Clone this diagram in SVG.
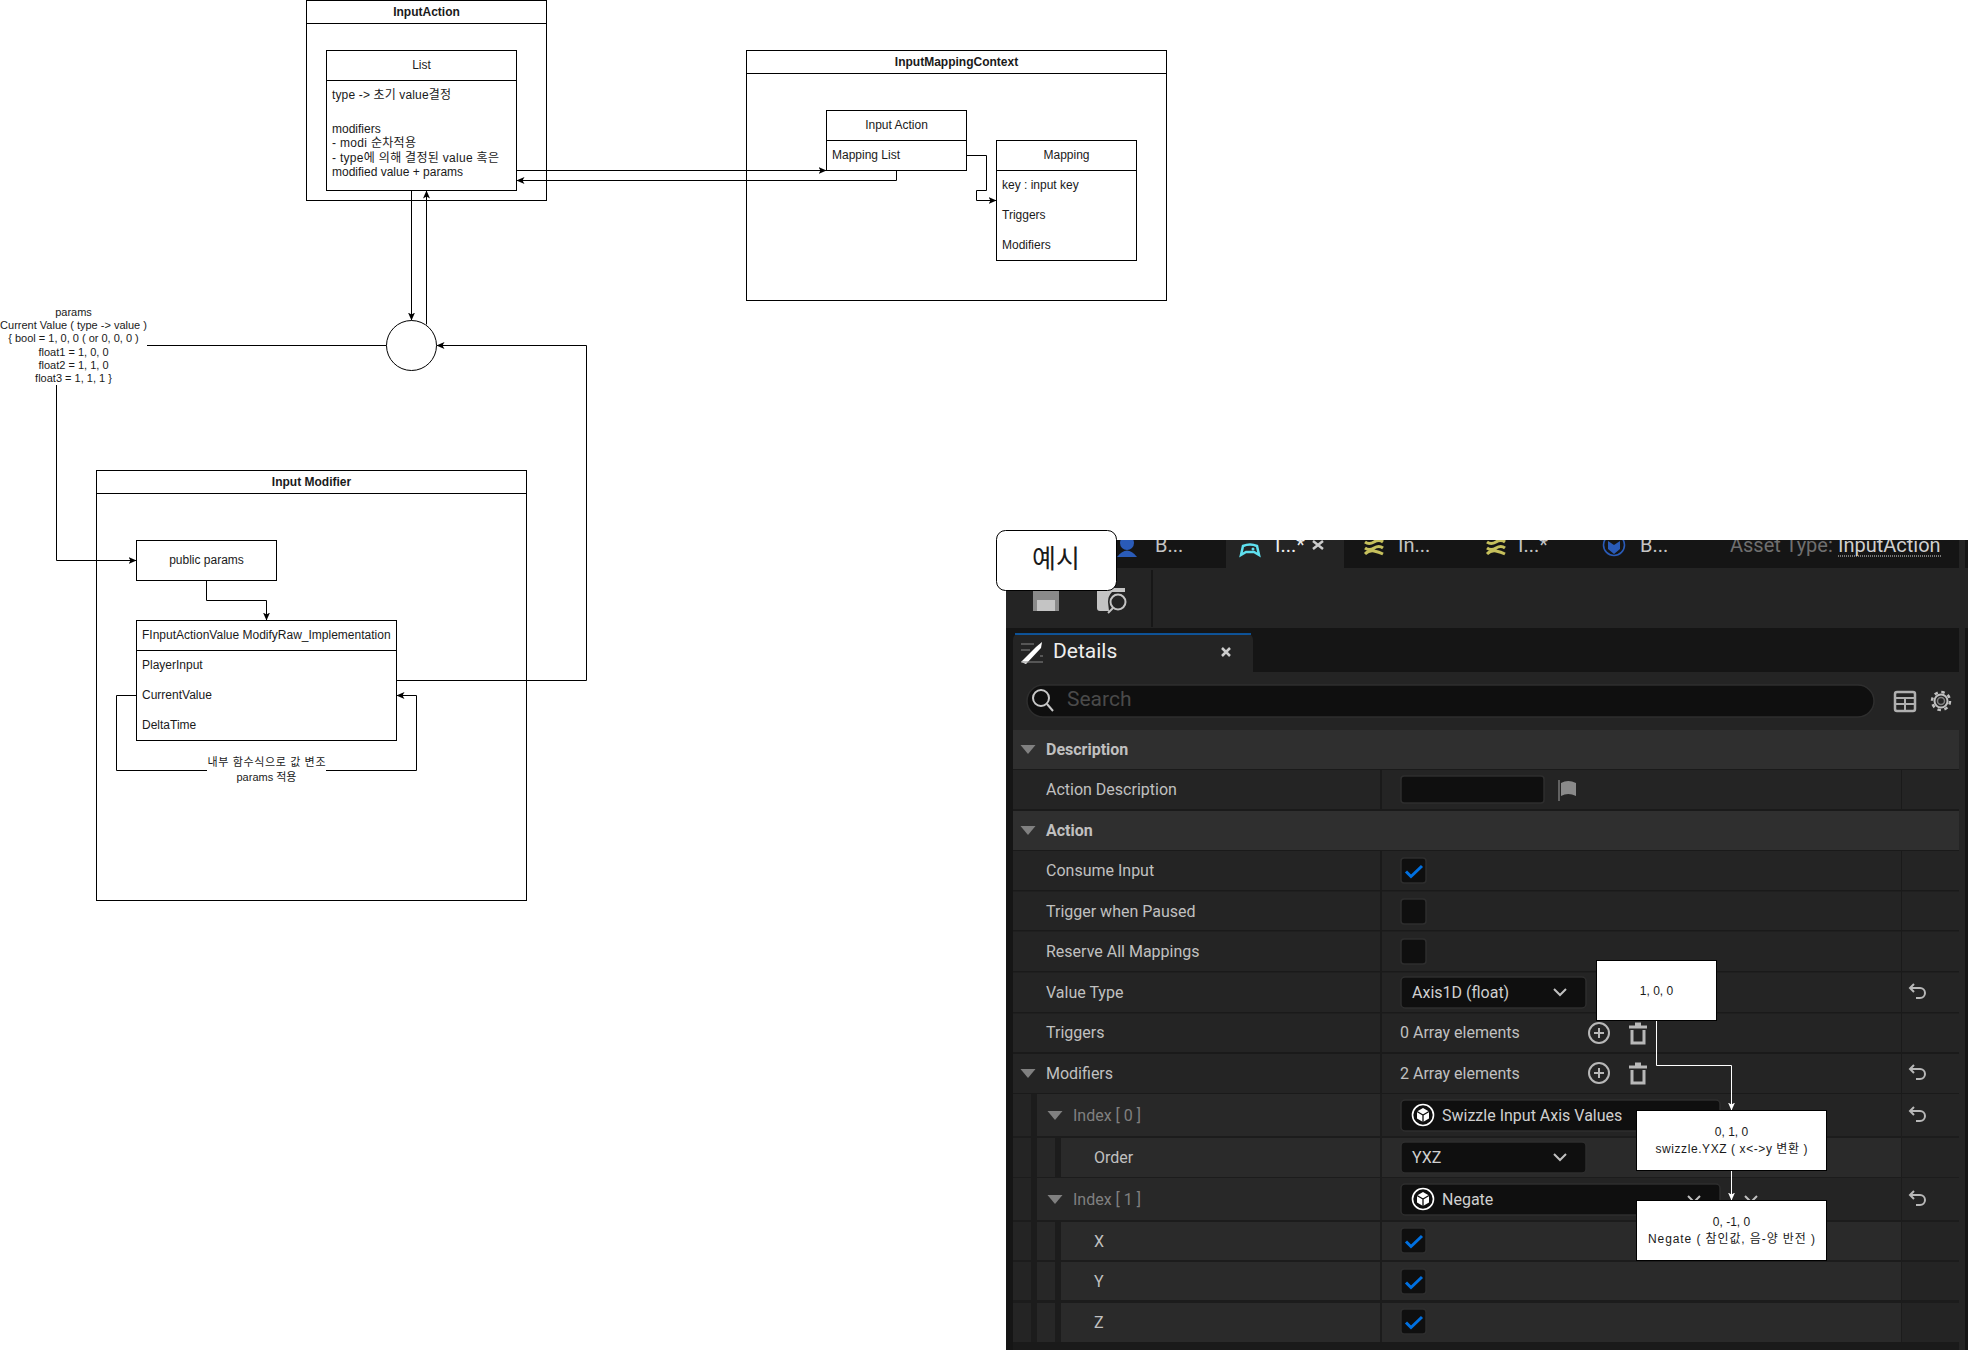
<svg xmlns="http://www.w3.org/2000/svg" width="1968" height="1352" viewBox="0 0 1968 1352">
<style>
.b{fill:#fff;stroke:#000;stroke-width:1}
.n{fill:none;stroke:#000;stroke-width:1}
.t{font-family:"Liberation Sans","Noto Sans CJK KR",sans-serif;font-size:12px;fill:#1a1a1a}
.s{font-size:11px}
.m{text-anchor:middle}
.h{font-weight:bold}
.c{fill:none;stroke:#000;stroke-width:1;marker-end:url(#a)}
.w{fill:none;stroke:#fff;stroke-width:1;marker-end:url(#aw)}
.u{font-family:Roboto,"Noto Sans",sans-serif;font-size:16px;fill:#c0c0c0}
.ub{font-weight:bold}
.d{fill:#808080}
.tab{font-size:20px;fill:#c4c4c4}
.sec{fill:#2f2f2f}
.in{fill:#0f0f0f;stroke:#2e2e2e;stroke-width:1.5}
.ic{fill:none;stroke:#b8b8b8;stroke-width:2}
.chk{fill:none;stroke:#0070e0;stroke-width:3}
.tri{fill:#808080}
.y{fill:none;stroke:#c6c05c;stroke-width:3}
</style>
<defs>
<marker id="a" markerUnits="userSpaceOnUse" markerWidth="8" markerHeight="8" viewBox="0 0 8 8" refX="8" refY="4" orient="auto"><path d="M0 0.5L8 4L0 7.5L2 4Z" fill="#000"/></marker>
<marker id="aw" markerUnits="userSpaceOnUse" markerWidth="8" markerHeight="8" viewBox="0 0 8 8" refX="8" refY="4" orient="auto"><path d="M0 0.5L8 4L0 7.5L2 4Z" fill="#fff"/></marker>
<clipPath id="shot"><rect x="1006" y="540" width="962" height="810"/></clipPath>
<g id="box"><rect x="-13" y="-13" width="25" height="25" rx="3" class="in"/><path d="M-8 0.5L-3 5.5L8 -5" class="chk"/></g>
<g id="empty"><rect x="-13" y="-13" width="25" height="25" rx="3" class="in"/></g>
<path id="tr" d="M-7.5 -4H7.5L0 5Z" class="tri"/>
<path id="chev" d="M-6 -3L0 3L6 -3" fill="none" stroke="#c0c0c0" stroke-width="2"/>
<g id="undo"><path d="M-7 -4H3A5 5 0 0 1 3 6H-1M-3 -8L-7 -4L-3 0" class="ic"/></g>
<g id="plus"><circle r="10" class="ic"/><path d="M-5 0H5M0 -5V5" class="ic"/></g>
<g id="trash"><path d="M-9 -6H9M-3 -9H3M-6 -3V10H6V-3" class="ic" style="stroke-width:3"/></g>
<g id="cube"><circle r="10.5" fill="none" stroke="#fff" stroke-width="1.6"/><path d="M0 -7L6 -3.5V3.5L0 7L-6 3.5V-3.5Z" fill="#fff"/><path d="M-6 -3.5L0 0L6 -3.5M0 0V7" fill="none" stroke="#0f0f0f" stroke-width="1.3"/></g>
<g id="wave"><path d="M0 3q4 3 9 0t9 0M0 9q4 3 9 0t9 0M0 15q4 -4 9 -3t9 3" class="y"/></g>
</defs>
<rect width="1968" height="1352" fill="#fff"/>

<g id="screenshot" clip-path="url(#shot)">
<rect x="1006" y="540" width="962" height="810" fill="#151515"/>
<rect x="1006" y="568" width="962" height="60" fill="#242424"/>
<rect x="1226" y="540" width="118" height="28" fill="#242424"/>
<rect x="1151" y="570" width="2" height="57" fill="#171717"/>
<rect x="1006" y="628" width="962" height="44" fill="#151515"/>
<path d="M1013 672V640Q1013 634 1019 634H1247Q1253 634 1253 640V672Z" fill="#242424"/>
<path d="M1015 634H1251" stroke="#0a66c2" stroke-width="1.5"/>
<rect x="1013" y="672" width="946" height="678" fill="#242424"/>
<rect x="1959" y="540" width="6" height="810" fill="#242424"/>
<rect x="1013" y="1342" width="946" height="8" fill="#1a1a1a"/>

<text class="u tab" x="1155" y="552">B...</text>
<text class="u tab" x="1275" y="552" style="fill:#eee">I...*</text>
<text class="u tab" x="1398" y="552">In...</text>
<text class="u tab" x="1518" y="552">I...*</text>
<text class="u tab" x="1640" y="552">B...</text>
<path d="M1313 541L1323 549M1323 541L1313 549" stroke="#ccc" stroke-width="2.5"/>
<circle cx="1127" cy="543" r="7" fill="#2a5bb8"/><path d="M1117 557Q1127 544 1137 557Z" fill="#2a5bb8"/>
<path d="M1241 555L1243 546Q1250 543 1257 546L1259 555L1254 552H1246Z" fill="none" stroke="#5fe0ef" stroke-width="2.5"/><circle cx="1253" cy="549" r="1.5" fill="#5fe0ef"/>
<use href="#wave" x="1365" y="539"/><use href="#wave" x="1487" y="539"/>
<circle cx="1614" cy="545" r="10.5" fill="none" stroke="#2a5bb8" stroke-width="1.6"/><path d="M1608 541L1614 545L1620 541V549L1614 554L1608 549Z" fill="#2a5bb8"/>
<text class="u tab" x="1730" y="552" style="fill:#6f6f6f">Asset Type:</text>
<text class="u tab" x="1838" y="552" style="fill:#d0d0d0">InputAction</text>
<path d="M1838 556H1941" stroke="#ddd" stroke-dasharray="1 1"/>

<rect x="1033" y="588" width="26" height="23" fill="#8a8a8a"/><rect x="1037" y="600" width="18" height="11" fill="#c4c4c4"/>
<path d="M1097 588H1125V592H1112Q1108 596 1108 602L1109 611H1100Q1097 611 1097 608Z" fill="#c4c4c4"/>
<circle cx="1118" cy="602" r="7.5" fill="none" stroke="#c4c4c4" stroke-width="2"/><path d="M1113 608L1108 613" stroke="#c4c4c4" stroke-width="2"/>

<path d="M1021 662L1036 647L1042 642L1041 648L1026 664Z" fill="#fff"/><path d="M1021 644H1034M1021 650H1030M1040 656H1043M1021 662H1043" stroke="#888" stroke-width="1.2"/>
<text class="u" style="font-size:21px;fill:#eee" x="1053" y="658">Details</text>
<path d="M1222 648L1230 656M1230 648L1222 656" stroke="#ccc" stroke-width="2.5"/>

<rect x="1027" y="685" width="847" height="32" rx="16" class="in"/>
<circle cx="1041" cy="698" r="8" fill="none" stroke="#c8c8c8" stroke-width="2"/><path d="M1047 704L1053 711" stroke="#c8c8c8" stroke-width="2"/>
<text class="u" style="font-size:21px;fill:#4a4a4a" x="1067" y="706">Search</text>
<rect x="1895" y="692" width="20" height="19" rx="2" fill="none" stroke="#b0b0b0" stroke-width="2.5"/><path d="M1895 698H1915M1895 704H1915M1905 698V711" stroke="#b0b0b0" stroke-width="2"/>
<circle cx="1941" cy="701" r="9" fill="none" stroke="#c0c0c0" stroke-width="2.5" stroke-dasharray="3.5 3.57"/><circle cx="1941" cy="701" r="6.5" fill="none" stroke="#c0c0c0" stroke-width="2"/><circle cx="1941" cy="701" r="3.5" fill="none" stroke="#808080" stroke-width="1.5"/>

<rect x="1013" y="730" width="946" height="39" class="sec"/>
<rect x="1013" y="811" width="946" height="39" class="sec"/>
<g fill="#1a1a1a">
<rect x="1013" y="769" width="946" height="1"/><rect x="1013" y="809" width="946" height="2"/><rect x="1013" y="850" width="946" height="1"/><rect x="1013" y="890" width="946" height="1.5"/><rect x="1013" y="930" width="946" height="1.5"/><rect x="1013" y="971" width="946" height="1.5"/><rect x="1013" y="1012" width="946" height="1.5"/><rect x="1013" y="1052" width="946" height="2"/><rect x="1013" y="1093" width="946" height="1"/>
<rect x="1380" y="770" width="2" height="39"/><rect x="1380" y="851" width="2" height="491"/>
<rect x="1901" y="770" width="1" height="39"/><rect x="1901" y="851" width="1" height="491"/>
</g>
<rect x="1037" y="1094" width="343" height="42" fill="#282828"/><rect x="1037" y="1178" width="343" height="42" fill="#282828"/>
<rect x="1037" y="1138" width="24" height="39" fill="#272727"/><rect x="1037" y="1222" width="24" height="120" fill="#272727"/>
<g fill="#2a2a2a">
<rect x="1061" y="1138" width="319" height="39"/><rect x="1061" y="1222" width="319" height="38"/><rect x="1061" y="1262" width="319" height="38"/><rect x="1061" y="1303" width="319" height="39"/>
<rect x="1382" y="1138" width="519" height="39"/><rect x="1382" y="1222" width="519" height="38"/><rect x="1382" y="1262" width="519" height="38"/><rect x="1382" y="1303" width="519" height="39"/>
</g>
<g fill="#1c1c1c">
<rect x="1031" y="1094" width="6" height="248"/><rect x="1055" y="1138" width="6" height="39"/><rect x="1055" y="1222" width="6" height="120"/>
<rect x="1013" y="1136" width="946" height="2"/><rect x="1013" y="1177" width="946" height="1"/><rect x="1013" y="1220" width="946" height="2"/><rect x="1013" y="1260" width="946" height="2"/><rect x="1013" y="1300" width="946" height="3"/>
<rect x="1380" y="1094" width="2" height="248"/><rect x="1901" y="1094" width="1" height="248"/>
</g>

<use href="#tr" x="1028" y="749"/><use href="#tr" x="1028" y="830"/><use href="#tr" x="1028" y="1073"/><use href="#tr" x="1055" y="1115"/><use href="#tr" x="1055" y="1199"/>
<text class="u ub" x="1046" y="755">Description</text>
<text class="u" x="1046" y="795">Action Description</text>
<text class="u ub" x="1046" y="836">Action</text>
<text class="u" x="1046" y="876">Consume Input</text>
<text class="u" x="1046" y="917">Trigger when Paused</text>
<text class="u" x="1046" y="957">Reserve All Mappings</text>
<text class="u" x="1046" y="998">Value Type</text>
<text class="u" x="1046" y="1038">Triggers</text>
<text class="u" x="1046" y="1079">Modifiers</text>
<text class="u d" x="1073" y="1121">Index [ 0 ]</text>
<text class="u" x="1094" y="1163">Order</text>
<text class="u d" x="1073" y="1205">Index [ 1 ]</text>
<text class="u" x="1094" y="1247">X</text>
<text class="u" x="1094" y="1287">Y</text>
<text class="u" x="1094" y="1328">Z</text>

<rect x="1401" y="776" width="143" height="27" rx="3" class="in"/>
<path d="M1559 780V801" stroke="#777" stroke-width="1.5"/><path d="M1561 783Q1568 779 1576 783V796Q1568 792 1561 796Z" fill="#8a8a8a"/>
<use href="#box" x="1414" y="871"/><use href="#empty" x="1414" y="912"/><use href="#empty" x="1414" y="952"/>
<rect x="1401" y="977" width="185" height="31" rx="4" class="in"/>
<text class="u" x="1412" y="998" style="fill:#d0d0d0">Axis1D (float)</text><use href="#chev" x="1560" y="992"/>
<text class="u" x="1400" y="1038">0 Array elements</text>
<use href="#plus" x="1599" y="1033"/><use href="#trash" x="1638" y="1033"/>
<text class="u" x="1400" y="1079">2 Array elements</text>
<use href="#plus" x="1599" y="1073"/><use href="#trash" x="1638" y="1073"/>
<rect x="1401" y="1100" width="319" height="31" rx="4" class="in"/>
<use href="#cube" x="1423" y="1115"/><text class="u" x="1442" y="1121" style="fill:#d0d0d0">Swizzle Input Axis Values</text>
<rect x="1401" y="1142" width="185" height="31" rx="4" class="in"/>
<text class="u" x="1412" y="1163" style="fill:#d0d0d0">YXZ</text><use href="#chev" x="1560" y="1157"/>
<rect x="1401" y="1184" width="319" height="31" rx="4" class="in"/>
<use href="#cube" x="1423" y="1199"/><text class="u" x="1442" y="1205" style="fill:#d0d0d0">Negate</text>
<use href="#chev" x="1694" y="1199"/><use href="#chev" x="1751" y="1199"/>
<use href="#box" x="1414" y="1241"/><use href="#box" x="1414" y="1282"/><use href="#box" x="1414" y="1322"/>
<use href="#undo" x="1917" y="992"/><use href="#undo" x="1917" y="1073"/><use href="#undo" x="1917" y="1115"/><use href="#undo" x="1917" y="1199"/>
</g>

<g id="input-action">
<rect class="n" x="306.5" y="0.5" width="240" height="200"/>
<path class="n" d="M306.5 23.5H546.5"/>
<text class="t h m" x="426.5" y="16">InputAction</text>
</g>
<g id="input-mapping-context">
<rect class="n" x="746.5" y="50.5" width="420" height="250"/>
<path class="n" d="M746.5 73.5H1166.5"/>
<text class="t h m" x="956.5" y="66">InputMappingContext</text>
</g>
<g id="input-modifier">
<rect x="96.5" y="470.5" width="430" height="430" class="n"/>
<path class="n" d="M96.5 493.5H526.5"/>
<text class="t h m" x="311.5" y="486">Input Modifier</text>
</g>

<g id="connectors">
<path class="c" d="M516.5 170.5H826.5"/>
<path class="c" d="M896.5 170.5V180.5H516.5"/>
<path class="c" d="M966.5 155.5H986.5V190.5H976.5V200.5H996.5"/>
<path class="c" d="M411.5 190.5V320.5"/>
<path class="c" d="M426.5 324.5V190.5"/>
<path class="n" d="M386.5 345.5H147"/>
<path class="c" d="M56.5 385V560.5H136.5"/>
<path class="c" d="M206.5 580.5V600.5H266.5V620.5"/>
<path class="c" d="M136.5 695.5H116.5V770.5H416.5V695.5H396.5"/>
<path class="c" d="M396.5 680.5H586.5V345.5H436.5"/>
<path class="w" d="M1656.5 1020.5V1065.5H1731.5V1110.5"/>
<path class="w" d="M1731.5 1170.5V1200.5"/>
</g>

<g id="list">
<rect class="b" x="326.5" y="50.5" width="190" height="140"/>
<path class="n" d="M326.5 80.5H516.5"/>
<text class="t m" x="421.5" y="69">List</text>
<text class="t" x="332" y="99" textLength="119">type -&gt; 초기 value결정</text>
<text class="t" x="332" y="133">modifiers</text>
<text class="t" x="332" y="147" textLength="84">- modi 순차적용</text>
<text class="t" x="332" y="162" textLength="167">- type에 의해 결정된 value 혹은</text>
<text class="t" x="332" y="176">modified value + params</text>
</g>
<g id="input-action-list">
<rect class="b" x="826.5" y="110.5" width="140" height="60"/>
<path class="n" d="M826.5 140.5H966.5"/>
<text class="t m" x="896.5" y="129">Input Action</text>
<text class="t" x="832" y="159">Mapping List</text>
</g>
<g id="mapping">
<rect class="b" x="996.5" y="140.5" width="140" height="120"/>
<path class="n" d="M996.5 170.5H1136.5"/>
<text class="t m" x="1066.5" y="159">Mapping</text>
<text class="t" x="1002" y="189">key : input key</text>
<text class="t" x="1002" y="219">Triggers</text>
<text class="t" x="1002" y="249">Modifiers</text>
</g>
<g id="junction"><circle class="b" cx="411.5" cy="345.5" r="25"/></g>
<g id="params-label">
<text class="t s m" x="73.5" y="316">params</text>
<text class="t s m" x="73.5" y="329">Current Value ( type -&gt; value )</text>
<text class="t s m" x="73.5" y="342">{ bool = 1, 0, 0 ( or 0, 0, 0 )</text>
<text class="t s m" x="73.5" y="356">float1 = 1, 0, 0</text>
<text class="t s m" x="73.5" y="369">float2 = 1, 1, 0</text>
<text class="t s m" x="73.5" y="382">float3 = 1, 1, 1 }</text>
</g>
<g id="public-params">
<rect class="b" x="136.5" y="540.5" width="140" height="40"/>
<text class="t m" x="206.5" y="564">public params</text>
</g>
<g id="modify-raw">
<rect class="b" x="136.5" y="620.5" width="260" height="120"/>
<path class="n" d="M136.5 650.5H396.5"/>
<text class="t" x="142" y="639">FInputActionValue ModifyRaw_Implementation</text>
<text class="t" x="142" y="669">PlayerInput</text>
<text class="t" x="142" y="699">CurrentValue</text>
<text class="t" x="142" y="729">DeltaTime</text>
</g>
<g id="modify-label">
<rect x="207" y="756" width="119" height="30" fill="#fff"/>
<text class="t s m" x="266.5" y="766" textLength="118">내부 함수식으로 값 변조</text>
<text class="t s m" x="266.5" y="781">params 적용</text>
</g>
<g id="example">
<rect class="b" x="996.5" y="530.5" width="120" height="60" rx="9"/>
<text class="t m" style="font-size:26px" x="1056" y="568">예시</text>
</g>
<g id="value-1">
<rect class="b" x="1596.5" y="960.5" width="120" height="60"/>
<text class="t m" x="1656.5" y="995">1, 0, 0</text>
</g>
<g id="value-2">
<rect class="b" x="1636.5" y="1110.5" width="190" height="60"/>
<text class="t m" x="1731.5" y="1136">0, 1, 0</text>
<text class="t m" x="1731.5" y="1153" textLength="152">swizzle.YXZ ( x&lt;-&gt;y 변환 )</text>
</g>
<g id="value-3">
<rect class="b" x="1636.5" y="1200.5" width="190" height="60"/>
<text class="t m" x="1731.5" y="1226">0, -1, 0</text>
<text class="t m" x="1731.5" y="1243" textLength="167">Negate ( 참인값, 음-양 반전 )</text>
</g>
</svg>
